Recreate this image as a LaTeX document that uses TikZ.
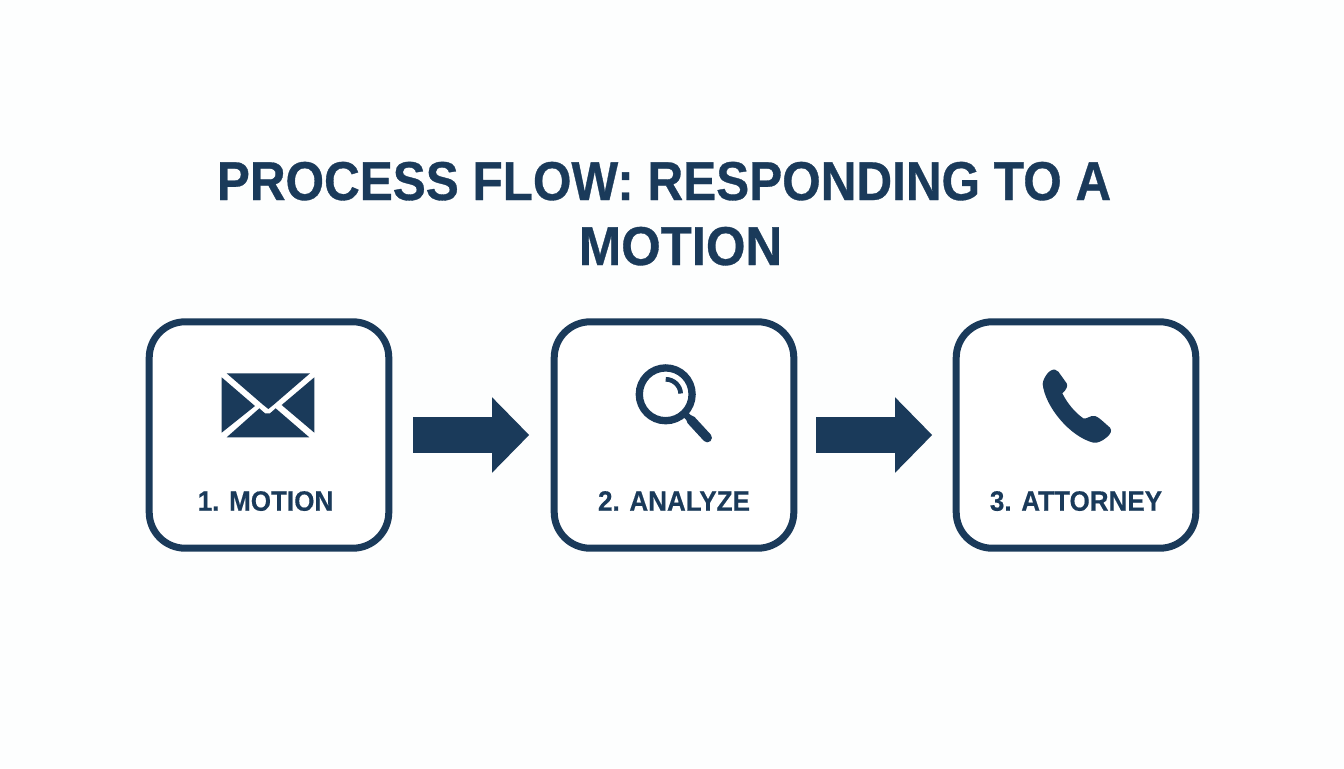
\documentclass[tikz,border=0pt]{standalone}
\usepackage{fontspec}
\newfontfamily\titlefont[FakeStretch=0.905,FakeBold=0.6]{Liberation Sans Bold}
\newfontfamily\titlewide[FakeStretch=0.93,FakeBold=0.6]{Liberation Sans Bold}
\newfontfamily\labelfont[FakeStretch=0.93,FakeBold=0.4]{Liberation Sans Bold}
\usetikzlibrary{arrows.meta}
\definecolor{navy}{HTML}{1A3A5A}
\definecolor{paper}{HTML}{FDFEFE}
\tikzset{
  x=0.75pt,y=-0.75pt,
  stepbox/.style={draw=navy,line width=5.25pt,rounded corners=27pt,minimum width=179.7pt,minimum height=169.8pt,fill=white,inner sep=0pt},
  boxlabel/.style={text=navy,font=\labelfont\fontsize{21}{21}\selectfont,inner sep=0pt,anchor=base},
  titleline/.style={text=navy,font=\titlefont\fontsize{41}{41}\selectfont,inner sep=0pt,anchor=base},
  titlelast/.style={text=navy,font=\titlewide\fontsize{41}{41}\selectfont,inner sep=0pt,anchor=base},
  flow/.style={draw=navy,line width=27pt,-{Triangle[length=27.75pt,width=54.75pt]}},
  icon/.style={fill=navy,draw=none},
}
\begin{document}
\begin{tikzpicture}
\useasboundingbox[fill=paper] (0,0) rectangle (1344,768);
\node[titleline] (t1) at (664,200) {PROCESS FLOW: RESPONDING TO A};
\node[titlelast] (t2) at (680.5,265) {MOTION};
\node[stepbox] (b1) at (269,435) {};
\node[stepbox] (b2) at (674,435) {};
\node[stepbox] (b3) at (1076,435) {};
\node[boxlabel] (l1) at (265.5,510.7) {1. MOTION};
\node[boxlabel] (l2) at (674,510.7) {2. ANALYZE};
\node[boxlabel] (l3) at (1076,510.7) {3. ATTORNEY};
\draw[flow,shorten <=20.7pt*0.75,shorten >=21.5pt*0.75] (b1.east) -- (b2.west);
\draw[flow,shorten <=18.7pt*0.75,shorten >=20.5pt*0.75] (b2.east) -- (b3.west);
% envelope
\begin{scope}[shift={(210,360)},x=0.25pt,y=-0.25pt]
\fill[icon] (50,40) -- (300,40) -- (190,135) -- (175,147) -- (160,135) -- cycle;
\fill[icon] (35,52) -- (135,138) -- (35,218) -- cycle;
\fill[icon] (313,52) -- (215,135) -- (313,218) -- cycle;
\fill[icon] (50,232) -- (148,145) -- (165,160) -- (180,160) -- (197,145) -- (298,232) -- cycle;
\end{scope}
% magnifier
\draw[navy,line width=5.5pt] (665.7,394.3) circle[radius=26.4];
\draw[navy,line width=3.5pt] (665.7,379.3) arc[start angle=-90,end angle=-3,radius=15];
\draw[navy,line width=5pt] (683,412) -- (691,420);
\draw[navy,line width=7pt,line cap=round] (691,420) -- (707.3,437.7);
% phone
\begin{scope}[shift={(1030,360)},x=0.25pt,y=-0.25pt]
\fill[icon] (38,72) .. controls (38,60) and (50,40) .. (60,33)
  .. controls (70,26) and (80,28) .. (85,35) -- (110,70)
  .. controls (114,78) and (110,88) .. (97,100)
  .. controls (112,130) and (135,158) .. (160,175)
  .. controls (172,178) and (180,165) .. (195,168)
  .. controls (205,170) and (225,190) .. (240,203)
  .. controls (247,212) and (242,222) .. (230,232)
  .. controls (215,245) and (200,250) .. (190,248)
  .. controls (120,230) and (45,140) .. (38,72) -- cycle;
\end{scope}
\end{tikzpicture}
\end{document}
